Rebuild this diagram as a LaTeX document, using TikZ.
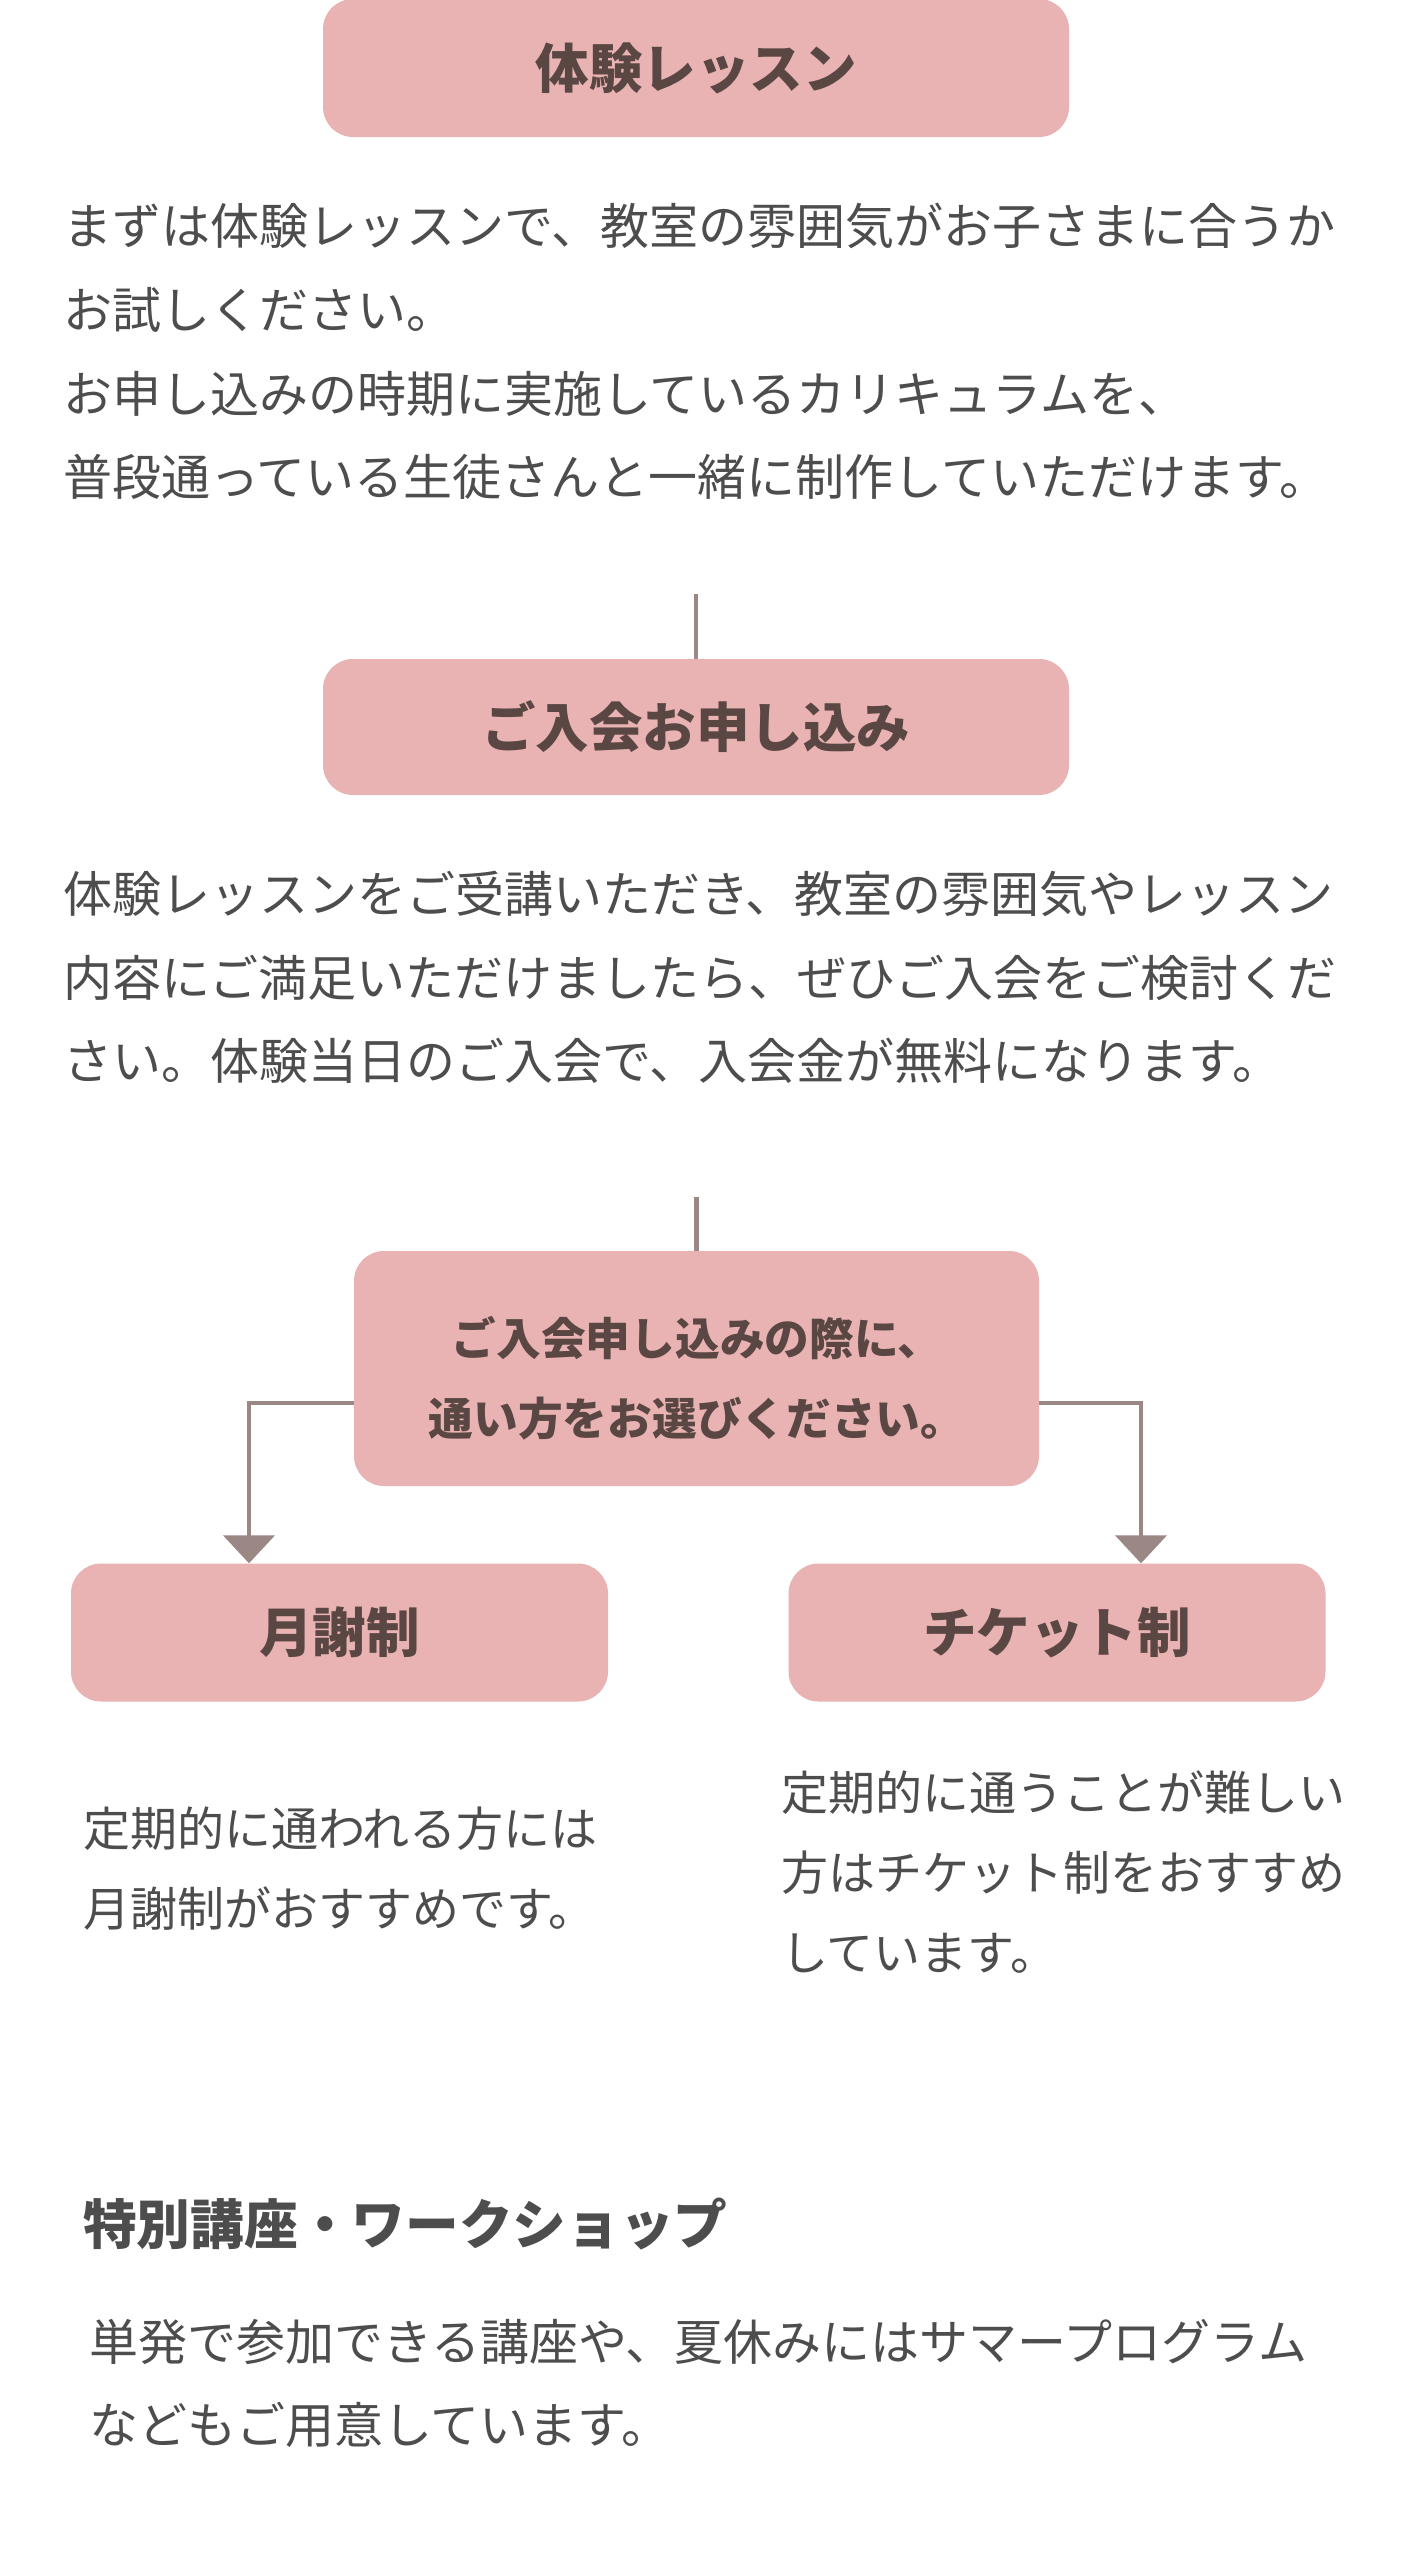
\documentclass[tikz,border=0pt]{standalone}
\usepackage{fontspec}
\setmainfont{Noto Sans CJK JP}
\usetikzlibrary{arrows.meta}
\definecolor{boxpink}{HTML}{E8B3B2}
\definecolor{boxtxt}{HTML}{5A4642}
\definecolor{bodytxt}{HTML}{4D4D4D}
\definecolor{linecol}{HTML}{9B8885}
\begin{document}
\begin{tikzpicture}[x=1pt,y=-1pt,
  stepbox/.style={fill=boxpink, rounded corners=30pt, inner sep=0pt, text=boxtxt,
    font=\fontsize{53.5}{60}\selectfont\bfseries},
  boxlabel/.style={inner sep=0pt, text=boxtxt, align=center,
    font=\fontsize{44.7}{80}\selectfont\bfseries},
  para/.style={inner sep=0pt, anchor=west, align=left, text=bodytxt,
    font=\fontsize{49}{83.6}\selectfont},
  smallpara/.style={inner sep=0pt, anchor=west, align=left, text=bodytxt,
    font=\fontsize{47}{80}\selectfont},
  heading/.style={inner sep=0pt, anchor=west, text=bodytxt,
    font=\fontsize{53.7}{60}\selectfont\bfseries},
  conn/.style={draw=linecol, line width=4.5pt},
  arr/.style={conn, -{Triangle[width=51pt,length=28pt]}}]
\useasboundingbox (0,0) rectangle (1402,2560);
\fill[white] (0,0) rectangle (1402,2560);

% boxes
\node[stepbox, minimum width=746pt, minimum height=138pt] (box1) at (696,68) {体験レッスン};
\node[stepbox, minimum width=746pt, minimum height=136pt] (box2) at (696,727) {ご入会お申し込み};
\node[stepbox, minimum width=685pt, minimum height=235pt] (box3) at (696.5,1368.5) {};
\node[boxlabel] (box3text) at (697,1378) {ご入会申し込みの際に、\\通い方をお選びください。};
\node[stepbox, minimum width=537pt, minimum height=138pt] (box4) at (339.5,1632.5) {月謝制};
\node[stepbox, minimum width=537pt, minimum height=138pt] (box5) at (1057,1632.5) {チケット制};

% paragraphs
\node[para] (p1) at (63,351.5) {まずは体験レッスンで、教室の雰囲気がお子さまに合うか\\お試しください。\\お申し込みの時期に実施しているカリキュラムを、\\普段通っている生徒さんと一緒に制作していただけます。};
\node[para] (p2) at (63,977.5) {体験レッスンをご受講いただき、教室の雰囲気やレッスン\\内容にご満足いただけましたら、ぜひご入会をご検討くだ\\さい。体験当日のご入会で、入会金が無料になります。};
\node[smallpara] (p4) at (83,1868.5) {定期的に通われる方には\\月謝制がおすすめです。};
\node[smallpara] (p5) at (781,1872) {定期的に通うことが難しい\\方はチケット制をおすすめ\\しています。};
\node[heading] (h6) at (83,2224) {特別講座・ワークショップ};
\node[para] (p6) at (89,2383.5) {単発で参加できる講座や、夏休みにはサマープログラム\\などもご用意しています。};

% connectors
\coordinate (c1) at (696,594);
\coordinate (c2) at (696.5,1197);
\coordinate (jl) at (249,1403);
\coordinate (jr) at (1141,1403);
\draw[conn] (c1) -- (box2.north);
\draw[conn] (c2) -- (box3.north);
\draw[arr] (box3.west |- jl) -| (jl |- box4.north);
\draw[arr] (box3.east |- jr) -| (jr |- box5.north);
\end{tikzpicture}
\end{document}
